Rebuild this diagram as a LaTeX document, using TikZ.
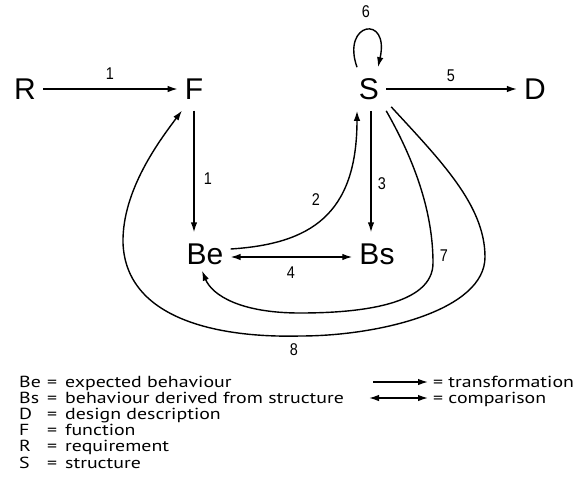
\documentclass[tikz,border=0pt]{standalone}
\usepackage{fontspec}
\setmainfont{Liberation Sans}
\newfontfamily\numfont[FakeStretch=0.85]{Liberation Sans}
\newfontfamily\legfont[FakeStretch=1.24]{PT Sans}
\usetikzlibrary{arrows.meta}
\newcommand\legrow[2]{\makebox[28pt][l]{#1}=\hspace{8pt}#2}
\begin{document}
\begin{tikzpicture}[x=1pt,y=-1pt,
  big/.style={font=\fontsize{30}{30}\selectfont, inner xsep=7pt, inner ysep=11pt},
  num/.style={font=\numfont\fontsize{17}{17}\selectfont, inner sep=0pt},
  tr/.style={line width=1.4pt, -{Latex[length=10pt,width=6.5pt]}},
  cmp/.style={line width=1.4pt, {Latex[length=10pt,width=6.5pt]}-{Latex[length=10pt,width=6.5pt]}},
  leg/.style={font=\legfont\fontsize{16}{16}\selectfont, inner sep=0pt, anchor=base west}
]
\useasboundingbox (0,0) rectangle (582,491);
% main nodes
\node[big] (R) at (25,89) {R};
\node[big] (F) at (194,89) {F};
\node[big] (S) at (369,89) {S};
\node[big] (D) at (535,89) {D};
\node[big] (Be) at (205,254) {Be};
\node[big] (Bs) at (377,254) {Bs};
% straight arrows
\draw[tr] (R.east) -- (F.west);
\draw[tr] (F.south) -- (F.south |- Be.north);
\draw[tr] ([xshift=2pt]S.south) -- ([xshift=2pt]S.south |- Bs.north);
\draw[tr] (S.east) -- (D.west);
\draw[cmp] ([yshift=-3pt]Be.east) -- ([yshift=-3pt]Bs.west);
% self loop 6
\draw[tr] ([xshift=-12pt]S.north) .. controls (341,22) and (390,14) .. ([xshift=9pt]S.north);
% curve 2
\draw[tr] ([yshift=5pt]Be.east) .. controls (310,244) and (357,215) .. ([xshift=-12pt]S.south);
% curve 7
\draw[tr] (S.south east) .. controls (420,170) and (433,220) .. (433,263)
  .. controls (433,305) and (360,313) .. (300,313)
  .. controls (240,313) and (212,295) .. ([xshift=-3pt,yshift=5pt]Be.south);
% curve 8
\draw[tr] ([xshift=5pt,yshift=4pt]S.south east) .. controls (440,160) and (485,205) .. (485,257)
  .. controls (485,310) and (380,336) .. (300,336)
  .. controls (220,338) and (126,320) .. (123,243)
  .. controls (122,190) and (160,140) .. ([xshift=-12pt]F.south);
% numbers
\node[num] (n1a) at (110,74) {1};
\node[num] (n1b) at (208,179) {1};
\node[num] (n5) at (451,76) {5};
\node[num] (n6) at (366,12) {6};
\node[num] (n2) at (316,200) {2};
\node[num] (n3) at (382,184) {3};
\node[num] (n4) at (291,273) {4};
\node[num] (n7) at (444,256) {7};
\node[num] (n8) at (294,350) {8};
% legend
\node[leg] (lg1) at (19,387) {\legrow{Be}{expected behaviour}};
\node[leg] (lg2) at (19,403.2) {\legrow{Bs}{behaviour derived from structure}};
\node[leg] (lg3) at (19,419.4) {\legrow{D}{design description}};
\node[leg] (lg4) at (19,435.6) {\legrow{F}{function}};
\node[leg] (lg5) at (19,451.8) {\legrow{R}{requirement}};
\node[leg] (lg6) at (19,468) {\legrow{S}{structure}};
\node[leg] (lt) at (433,387) {= transformation};
\node[leg] (lc) at (433,403.2) {= comparison};
\coordinate (lta) at (373,382);
\coordinate (lca) at (369,398);
\coordinate (ltb) at (428,382);
\coordinate (lcb) at (428,398);
\draw[tr] (lta) -- (ltb);
\draw[cmp] (lca) -- (lcb);
\end{tikzpicture}
\end{document}
